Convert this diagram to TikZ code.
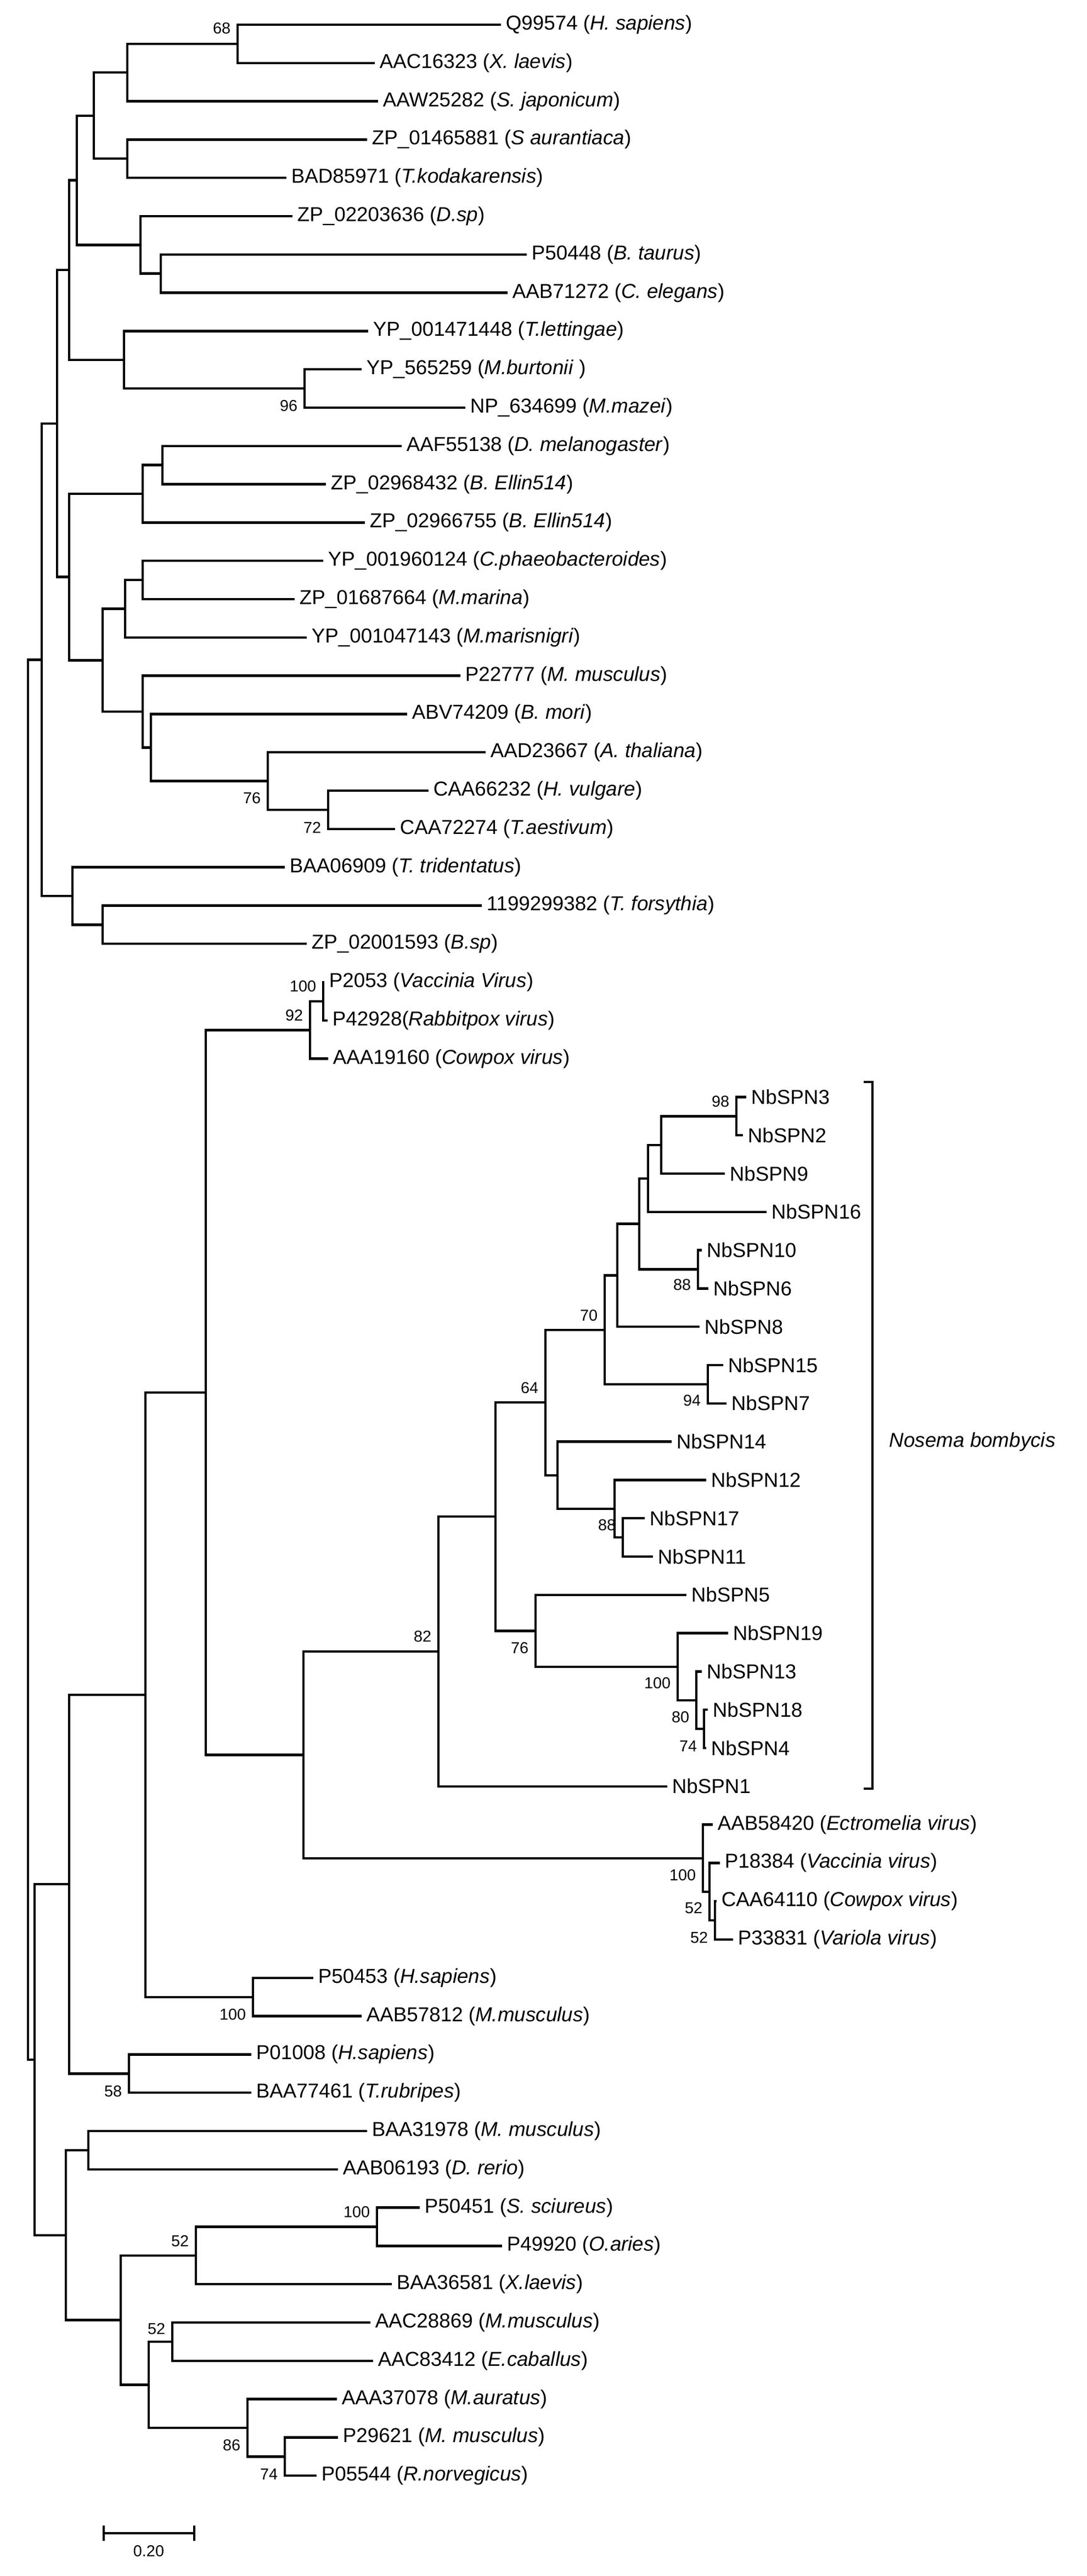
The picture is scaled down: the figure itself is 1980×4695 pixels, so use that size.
\documentclass[tikz,border=0pt]{standalone}
\usepackage{fontspec}
\setmainfont{Liberation Sans}
\newcommand\spc[1]{\textit{#1}}
\tikzset{
  br/.style={line width=1.1pt, line join=miter},
  leaf/.style={anchor=west, inner xsep=2pt, inner ysep=0pt, font=\fontsize{9.2}{10}\selectfont},
  bs/.style={anchor=east, inner sep=0pt, font=\fontsize{7.2}{8}\selectfont},
}
\begin{document}
\begin{tikzpicture}[x=0.25pt,y=-0.25pt]
\useasboundingbox (0,0) rectangle (1980,4695);
% leaves
\node[leaf] (l1) at (913,45) {Q99574 (\spc{H. sapiens})};
\node[leaf] (l2) at (683,114.8) {AAC16323 (\spc{X. laevis})};
\node[leaf] (l3) at (689,184.6) {AAW25282 (\spc{S. japonicum})};
\node[leaf] (l4) at (669,254.4) {ZP\_01465881 (\spc{S aurantiaca})};
\node[leaf] (l5) at (522,324.2) {BAD85971 (\spc{T.kodakarensis})};
\node[leaf] (l6) at (533,394) {ZP\_02203636 (\spc{D.sp})};
\node[leaf] (l7) at (960,463.8) {P50448 (\spc{B. taurus})};
\node[leaf] (l8) at (925,533.6) {AAB71272 (\spc{C. elegans})};
\node[leaf] (l9) at (671,603.4) {YP\_001471448 (\spc{T.lettingae})};
\node[leaf] (l10) at (659,673.2) {YP\_565259 (\spc{M.burtonii} )};
\node[leaf] (l11) at (848,743) {NP\_634699 (\spc{M.mazei})};
\node[leaf] (l12) at (732,812.8) {AAF55138 (\spc{D. melanogaster})};
\node[leaf] (l13) at (594,882.6) {ZP\_02968432 (\spc{B. Ellin514})};
\node[leaf] (l14) at (665,952.4) {ZP\_02966755 (\spc{B. Ellin514})};
\node[leaf] (l15) at (589,1022.2) {YP\_001960124 (\spc{C.phaeobacteroides})};
\node[leaf] (l16) at (537,1092) {ZP\_01687664 (\spc{M.marina})};
\node[leaf] (l17) at (559,1161.8) {YP\_001047143 (\spc{M.marisnigri})};
\node[leaf] (l18) at (839,1231.6) {P22777 (\spc{M. musculus})};
\node[leaf] (l19) at (742,1301.4) {ABV74209 (\spc{B. mori})};
\node[leaf] (l20) at (885,1371.2) {AAD23667 (\spc{A. thaliana})};
\node[leaf] (l21) at (781,1441) {CAA66232 (\spc{H. vulgare})};
\node[leaf] (l22) at (720,1510.8) {CAA72274 (\spc{T.aestivum})};
\node[leaf] (l23) at (519,1580.6) {BAA06909 (\spc{T. tridentatus})};
\node[leaf] (l24) at (878,1650.4) {1199299382 (\spc{T. forsythia})};
\node[leaf] (l25) at (559,1720.2) {ZP\_02001593 (\spc{B.sp})};
\node[leaf] (l26) at (591,1790) {P2053 (\spc{Vaccinia Virus})};
\node[leaf] (l27) at (597,1859.8) {P42928(\spc{Rabbitpox virus})};
\node[leaf] (l28) at (598,1929.6) {AAA19160 (\spc{Cowpox virus})};
\node[leaf] (l29) at (1360,1999.4) {NbSPN3};
\node[leaf] (l30) at (1354,2069.2) {NbSPN2};
\node[leaf] (l31) at (1321,2139) {NbSPN9};
\node[leaf] (l32) at (1397,2208.8) {NbSPN16};
\node[leaf] (l33) at (1279,2278.6) {NbSPN10};
\node[leaf] (l34) at (1291,2348.4) {NbSPN6};
\node[leaf] (l35) at (1275,2418.2) {NbSPN8};
\node[leaf] (l36) at (1318,2488) {NbSPN15};
\node[leaf] (l37) at (1324,2557.8) {NbSPN7};
\node[leaf] (l38) at (1224,2627.6) {NbSPN14};
\node[leaf] (l39) at (1287,2697.4) {NbSPN12};
\node[leaf] (l40) at (1175,2767.2) {NbSPN17};
\node[leaf] (l41) at (1190,2837) {NbSPN11};
\node[leaf] (l42) at (1251,2906.8) {NbSPN5};
\node[leaf] (l43) at (1327,2976.6) {NbSPN19};
\node[leaf] (l44) at (1279,3046.4) {NbSPN13};
\node[leaf] (l45) at (1290,3116.2) {NbSPN18};
\node[leaf] (l46) at (1287,3186) {NbSPN4};
\node[leaf] (l47) at (1216,3255.8) {NbSPN1};
\node[leaf] (l48) at (1299,3325.6) {AAB58420 (\spc{Ectromelia virus})};
\node[leaf] (l49) at (1312,3395.4) {P18384 (\spc{Vaccinia virus})};
\node[leaf] (l50) at (1306,3465.2) {CAA64110 (\spc{Cowpox virus})};
\node[leaf] (l51) at (1336,3535) {P33831 (\spc{Variola virus})};
\node[leaf] (l52) at (571,3604.8) {P50453 (\spc{H.sapiens})};
\node[leaf] (l53) at (659,3674.6) {AAB57812 (\spc{M.musculus})};
\node[leaf] (l54) at (458,3744.4) {P01008 (\spc{H.sapiens})};
\node[leaf] (l55) at (458,3814.2) {BAA77461 (\spc{T.rubripes})};
\node[leaf] (l56) at (669,3884) {BAA31978 (\spc{M. musculus})};
\node[leaf] (l57) at (616,3953.8) {AAB06193 (\spc{D. rerio})};
\node[leaf] (l58) at (765,4023.6) {P50451 (\spc{S. sciureus})};
\node[leaf] (l59) at (915,4093.4) {P49920 (\spc{O.aries})};
\node[leaf] (l60) at (714,4163.2) {BAA36581 (\spc{X.laevis})};
\node[leaf] (l61) at (675,4233) {AAC28869 (\spc{M.musculus})};
\node[leaf] (l62) at (680,4302.8) {AAC83412 (\spc{E.caballus})};
\node[leaf] (l63) at (614,4372.6) {AAA37078 (\spc{M.auratus})};
\node[leaf] (l64) at (616,4442.4) {P29621 (\spc{M. musculus})};
\node[leaf] (l65) at (577,4512.2) {P05544 (\spc{R.norvegicus})};
% internal nodes
\coordinate (A) at (433,79.9);
\coordinate (B) at (232,132.3);
\coordinate (C) at (232,289.3);
\coordinate (D) at (171,210.8);
\coordinate (F) at (293,498.7);
\coordinate (G) at (256,446.4);
\coordinate (E) at (140,328.6);
\coordinate (H) at (555,708.1);
\coordinate (I) at (226,655.8);
\coordinate (J) at (126,492.2);
\coordinate (L) at (296,847.7);
\coordinate (M) at (260,900);
\coordinate (N) at (260,1057.1);
\coordinate (O) at (228,1109.5);
\coordinate (R) at (598,1475.9);
\coordinate (S) at (488,1423.6);
\coordinate (T) at (275,1362.5);
\coordinate (U) at (260,1297.1);
\coordinate (P) at (187,1203.3);
\coordinate (Q) at (126,1051.7);
\coordinate (K) at (104,771.9);
\coordinate (W) at (187,1685.3);
\coordinate (X) at (132,1633);
\coordinate (V) at (76,1202.4);
\coordinate (Y) at (589,1824.9);
\coordinate (Z) at (565,1877.3);
\coordinate (AB) at (1342,2034.3);
\coordinate (AC) at (1205,2086.7);
\coordinate (AD) at (1181,2147.7);
\coordinate (AE) at (1272,2313.5);
\coordinate (AF) at (1165,2230.6);
\coordinate (AG) at (1125,2324.4);
\coordinate (AI) at (1290,2522.9);
\coordinate (AH) at (1102,2423.7);
\coordinate (AM) at (1135,2802.1);
\coordinate (AL) at (1120,2749.8);
\coordinate (AK) at (1016,2688.7);
\coordinate (AJ) at (994,2556.2);
\coordinate (AQ) at (1283,3151.1);
\coordinate (AP) at (1269,3098.8);
\coordinate (AO) at (1235,3037.7);
\coordinate (AR) at (976,2972.3);
\coordinate (AS) at (903,2764.2);
\coordinate (AT) at (799,3010);
\coordinate (AU) at (1303,3500.1);
\coordinate (AV) at (1293,3447.8);
\coordinate (AW) at (1281,3386.7);
\coordinate (AX) at (553,3198.4);
\coordinate (AA) at (375,2537.8);
\coordinate (AZ) at (461,3639.7);
\coordinate (AY) at (265,3088.8);
\coordinate (BB) at (235,3779.3);
\coordinate (BA) at (126,3434);
\coordinate (BD) at (161,3918.9);
\coordinate (BE) at (687,4058.5);
\coordinate (BF) at (357,4110.9);
\coordinate (BG) at (314,4267.9);
\coordinate (BH) at (519,4477.3);
\coordinate (BI) at (451,4425);
\coordinate (BJ) at (271,4346.4);
\coordinate (BK) at (220,4228.6);
\coordinate (BL) at (120,4073.8);
\coordinate (BC) at (63,3753.9);
\coordinate (root) at (51,2478.2);
% branches
\foreach \p/\c in {root/V, root/BC, V/K, V/X, K/J, K/Q, J/E, J/I, E/D, E/G, D/B, D/C,
  B/A, B/l3.west, A/l1.west, A/l2.west, C/l4.west, C/l5.west, G/l6.west, G/F,
  F/l7.west, F/l8.west, I/l9.west, I/H, H/l10.west, H/l11.west, Q/M, Q/P,
  M/L, M/l14.west, L/l12.west, L/l13.west, P/O, P/U, O/N, O/l17.west,
  N/l15.west, N/l16.west, U/l18.west, U/T, T/l19.west, T/S, S/l20.west, S/R,
  R/l21.west, R/l22.west, X/l23.west, X/W, W/l24.west, W/l25.west,
  BC/BA, BC/BL, BA/AY, BA/BB, AY/AA, AY/AZ, AA/Z, AA/AX, Z/Y, Z/l28.west,
  Y/l26.west, Y/l27.west, AX/AT, AX/AW, AT/AS, AT/l47.west, AS/AJ, AS/AR,
  AJ/AH, AJ/AK, AH/AG, AH/AI, AG/AF, AG/l35.west, AF/AD, AF/AE, AD/AC,
  AD/l32.west, AC/AB, AC/l31.west, AB/l29.west, AB/l30.west, AE/l33.west,
  AE/l34.west, AI/l36.west, AI/l37.west, AK/l38.west, AK/AL, AL/l39.west,
  AL/AM, AM/l40.west, AM/l41.west, AR/l42.west, AR/AO, AO/l43.west, AO/AP,
  AP/l44.west, AP/AQ, AQ/l45.west, AQ/l46.west, AW/l48.west, AW/AV,
  AV/l49.west, AV/AU, AU/l50.west, AU/l51.west, AZ/l52.west, AZ/l53.west,
  BB/l54.west, BB/l55.west, BL/BD, BL/BK, BD/l56.west, BD/l57.west, BK/BF,
  BK/BJ, BF/BE, BF/l60.west, BE/l58.west, BE/l59.west, BJ/BG, BJ/BI,
  BG/l61.west, BG/l62.west, BI/l63.west, BI/BH, BH/l64.west, BH/l65.west}
  \draw[br] (\p) |- (\c);
% bootstrap values
\node[bs] (b1) at (421,52) {68};
\node[bs] (b2) at (543,740) {96};
\node[bs] (b3) at (476,1455) {76};
\node[bs] (b4) at (586,1508) {72};
\node[bs] (b5) at (577,1798) {100};
\node[bs] (b6) at (553,1851) {92};
\node[bs] (b7) at (1330,2008) {98};
\node[bs] (b8) at (1260,2342) {88};
\node[bs] (b9) at (1090,2398) {70};
\node[bs] (b10) at (982,2530) {64};
\node[bs] (b11) at (1278,2553) {94};
\node[bs] (b12) at (1123,2780) {88};
\node[bs] (b13) at (964,3004) {76};
\node[bs] (b14) at (787,2983) {82};
\node[bs] (b15) at (1223,3068) {100};
\node[bs] (b16) at (1257,3130) {80};
\node[bs] (b17) at (1271,3183) {74};
\node[bs] (b18) at (1269,3418) {100};
\node[bs] (b19) at (1281,3478) {52};
\node[bs] (b20) at (1291,3532) {52};
\node[bs] (b21) at (449,3672) {100};
\node[bs] (b22) at (223,3812) {58};
\node[bs] (b23) at (675,4032) {100};
\node[bs] (b24) at (345,4085) {52};
\node[bs] (b25) at (302,4245) {52};
\node[bs] (b26) at (439,4457) {86};
\node[bs] (b27) at (507,4510) {74};
% bracket
\coordinate (brt0) at (1574,1972);
\coordinate (brt) at (1590,1972);
\coordinate (brb) at (1590,3260);
\coordinate (brb0) at (1574,3260);
\draw[line width=0.8pt] (brt0) -- (brt) -- (brb) -- (brb0);
\node[anchor=west, inner sep=0pt, font=\fontsize{9.2}{10}\selectfont\itshape] (nb) at (1620,2628) {Nosema bombycis};
% scale bar
\coordinate (sb1) at (189,4617);
\coordinate (sb2) at (354,4617);
\draw[br] (sb1) -- (sb2);
\draw[line width=0.8pt] ([yshift=3.6pt]sb1) -- ([yshift=-3.6pt]sb1);
\draw[line width=0.8pt] ([yshift=3.6pt]sb2) -- ([yshift=-3.6pt]sb2);
\node[font=\fontsize{7.2}{8}\selectfont, inner sep=0pt] (sbl) at (271,4650) {0.20};
\end{tikzpicture}
\end{document}
